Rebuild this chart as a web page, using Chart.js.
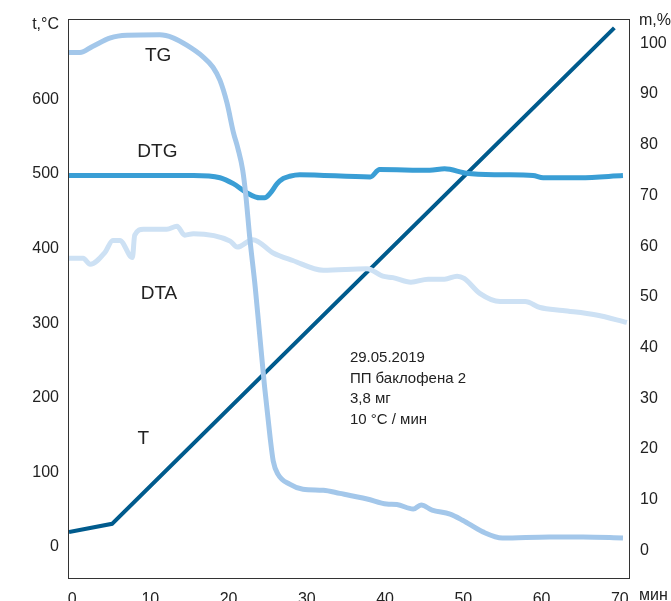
<!DOCTYPE html>
<html>
<head>
<meta charset="utf-8">
<script src="https://cdn.jsdelivr.net/npm/chart.js@4.4.1/dist/chart.umd.min.js"></script>
<style>
  body { margin: 0; background: #fff; }
  #wrap { width: 671px; height: 601px; position: relative; }
</style>
</head>
<body>
<div id="wrap"><canvas id="myChart"></canvas></div>
<script>
// time, min
const tMin = [-0.4, 5.1, 69.3];
const tVal = [20, 31, 696];

const tgMin = [-0.4, 1.0, 2.6, 4.9, 7.0, 11.2, 12.9, 14.7, 16.7, 18.0, 18.9, 19.8, 20.6, 21.2, 21.8, 22.2,
  22.7, 23.4, 24.0, 24.6, 25.3, 25.7, 26.3, 27.8, 29.5, 32.1, 34.2, 37.7, 40.2, 41.5, 43.6, 44.6, 46.0,
  48.3, 49.9, 52.5, 55.0, 61.0, 65.3, 70.4];
const tgVal = [98.2, 98.2, 99.4, 101.1, 101.6, 101.7, 101.1, 99.6, 97.4, 95.3, 92.7, 88.2, 82.5, 79.2, 75.0, 70.0,
  61.7, 51.9, 42.0, 32.2, 22.3, 17.6, 15.0, 13.0, 12.0, 11.8, 11.2, 10.1, 9.1, 9.0, 8.1, 8.9, 7.9,
  7.1, 5.9, 3.6, 2.4, 2.6, 2.6, 2.4];

const dtgMin = [-0.4, 15.5, 18.9, 20.6, 22.3, 24.0, 24.6, 25.3, 26.2, 27.0, 27.8, 29.1, 38.1, 39.3, 45.7,
  47.6, 50.4, 54.7, 58.9, 60.2, 64.9, 70.4];
const dtgVal = [498, 498, 495, 487, 475, 468, 468, 474, 487, 494, 497, 499, 496, 506, 505,
  507, 501, 499, 498, 495, 495, 498];

const dtaMin = [-0.4, 1.4, 2.3, 4.2, 5.2, 6.1, 7.7, 8.0, 9.1, 12.1, 13.4, 14.4, 15.5, 20.2, 21.1, 23.1,
  25.7, 28.2, 32.1, 37.7, 39.7, 41.0, 43.3, 45.5, 47.6, 49.2, 50.1, 52.1, 54.7, 57.9, 59.8, 62.7, 67.0, 70.9];
const dtaVal = [387, 387, 379, 395, 411, 411, 388, 418, 426, 426, 430, 418, 420, 410, 402, 412,
  394, 384, 371, 373, 363, 361, 355, 359, 359, 363, 360, 340, 329, 329, 321, 317, 311, 301];

const xTicks = [0, 10, 20, 30, 40, 50, 60, 70];
const tempTicks = [0, 100, 200, 300, 400, 500, 600, 700];
const massTicks = [0, 10, 20, 30, 40, 50, 60, 70, 80, 90, 100];

const curveNames = ['TG', 'DTG', 'DTA', 'T'];
const noteLines = ['29.05.2019', 'ПП баклофена 2', '3,8 мг', '10 \u00b0C / мин'];

const FONT = "'Liberation Sans', Arial, sans-serif";

function toPoints(xs, ys) {
  return xs.map((x, i) => ({ x: x, y: ys[i] }));
}

function fixTicks(list) {
  return (scale) => { scale.ticks = list.map(v => ({ value: v })); };
}

const textPlugin = {
  id: 'texts',
  afterDraw(chart) {
    const ctx = chart.ctx;
    const a = chart.chartArea;
    const x = chart.scales.x;
    const t = chart.scales.yT;
    ctx.save();
    // frame
    ctx.strokeStyle = '#333';
    ctx.lineWidth = 1;
    ctx.strokeRect(Math.round(a.left) - 0.5, Math.round(a.top) - 0.5, Math.round(a.right - a.left), Math.round(a.bottom - a.top));

    ctx.fillStyle = '#222';
    ctx.textAlign = 'center';
    ctx.textBaseline = 'middle';
    ctx.font = '19px ' + FONT;
    const pos = [[11.0, 659], [10.9, 530], [11.1, 339], [9.1, 145]];
    curveNames.forEach((name, i) => {
      ctx.fillText(name, x.getPixelForValue(pos[i][0]), t.getPixelForValue(pos[i][1]));
    });

    ctx.textAlign = 'left';
    ctx.font = '15px ' + FONT;
    const noteT = [254, 226, 198, 170];
    noteLines.forEach((line, i) => {
      ctx.fillText(line, x.getPixelForValue(35.5), t.getPixelForValue(noteT[i]));
    });

    ctx.font = '16px ' + FONT;
    ctx.fillText('m,%', a.right + 9, a.top + 1);
    ctx.textBaseline = 'alphabetic';
    ctx.fillText('мин', a.right + 9, 600);
    ctx.restore();
  }
};

const ctx = document.getElementById('myChart').getContext('2d');
const chart = new Chart(ctx, {
  type: 'line',
  data: {
    datasets: [
      { label: 'TG', data: toPoints(tgMin, tgVal), yAxisID: 'yM', borderColor: '#a3c7ea', borderWidth: 5, cubicInterpolationMode: 'monotone' },
      { label: 'DTG', data: toPoints(dtgMin, dtgVal), yAxisID: 'yT', borderColor: '#3a9ed5', borderWidth: 5, cubicInterpolationMode: 'monotone' },
      { label: 'DTA', data: toPoints(dtaMin, dtaVal), yAxisID: 'yT', borderColor: '#cde1f4', borderWidth: 5, cubicInterpolationMode: 'monotone' },
      { label: 'T', data: toPoints(tMin, tVal), yAxisID: 'yT', borderColor: '#005b8d', borderWidth: 4, tension: 0 }
    ]
  },
  options: {
    responsive: true,
    maintainAspectRatio: false,
    animation: false,
    elements: { point: { radius: 0 } },
    layout: { padding: { top: 19, left: 0, right: 0, bottom: 0 } },
    plugins: { legend: { display: false }, tooltip: { enabled: false } },
    scales: {
      x: {
        type: 'linear', min: -0.4, max: 71.3,
        afterBuildTicks: fixTicks(xTicks),
        afterFit: (s) => { s.height = 22; },
        grid: { display: false, drawTicks: false },
        border: { display: false },
        ticks: { padding: 11, color: '#222', font: { family: FONT, size: 16 }, maxRotation: 0 }
      },
      yT: {
        position: 'left', min: -43, max: 707,
        afterBuildTicks: fixTicks(tempTicks),
        afterFit: (s) => { s.width = 69; },
        grid: { display: false, drawTicks: false },
        border: { display: false },
        ticks: {
          padding: 10, color: '#222', font: { family: FONT, size: 16 },
          callback: (v) => (v === 700 ? 't,\u00b0C' : v)
        }
      },
      yM: {
        position: 'right', min: -5.7, max: 104.7,
        afterBuildTicks: fixTicks(massTicks),
        afterFit: (s) => { s.width = 41; },
        grid: { display: false, drawTicks: false },
        border: { display: false },
        ticks: { padding: 10, color: '#222', font: { family: FONT, size: 16 } }
      }
    }
  },
  plugins: [textPlugin]
});
</script>
</body>
</html>
